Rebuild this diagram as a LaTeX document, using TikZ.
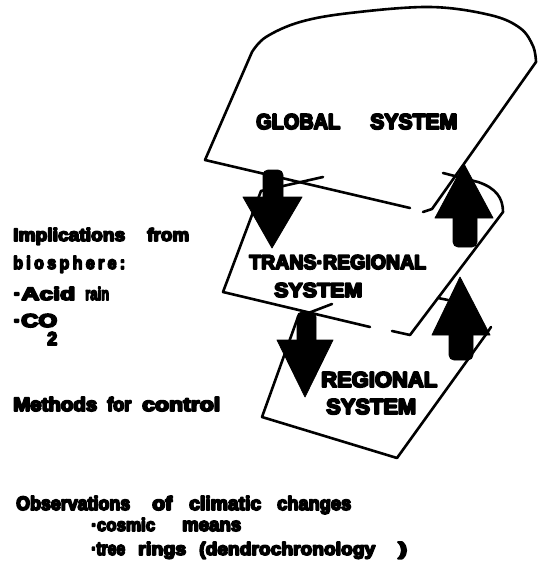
\documentclass[tikz,border=0pt]{standalone}
\usepackage{fontspec}
\setmainfont{Liberation Sans}
\usepackage{graphicx}

% heavy lettering: glyphs are filled and stroked
\newcommand\heavyon{\special{pdf:literal direct 2 Tr 0.9 w 1 j}}
\newcommand\heavyoff{\special{pdf:literal direct 0 Tr}}
% a word set to a fixed width (pt) and cap height (pt)
\newcommand\wb[3][13]{\resizebox{#2pt}{#1pt}{\heavyon\vphantom{A}#3\heavyoff}}

\begin{document}
\begin{tikzpicture}[x=1pt,y=-1pt,
  outline/.style={line width=2.6pt, line cap=round, line join=round},
  blockarrow/.style={fill=black, draw=black, line width=0.8pt, line join=round},
  shaft/.style={blockarrow, rounded corners=5pt},
  label/.style={anchor=base west, inner sep=0pt, font=\bfseries}]
\useasboundingbox (0,0) rectangle (538,564);

% ---- global system outline
\draw[outline] (410,208) -- (205,160) -- plot[smooth, tension=0.6] coordinates
  {(252,52) (266,37) (300,22) (350,13) (430,7) (490,15) (520,28) (533,46) (536,62)}
  -- (432,209) -- (423,212);

% ---- trans-regional system outline
\draw[outline] (370,327) -- (223,292) -- (261,191) -- (323,177);
\draw[outline] (443,173) -- (478,182) .. controls (496,188) and (503,198) .. (503,212)
  -- (410,335) -- (392,331);

% ---- regional system outline
\draw[outline] (332,304) -- (298,317) -- (262,417) -- (397,458) -- (487,333) -- (491,327);
\draw[outline] (438,298) -- (448,300);

% ---- block arrows between the levels
% global -> trans-regional
\fill[shaft] (263,200) -- (263,170) -- (283,170) -- (283,200);
\fill[blockarrow] (272,248) -- (243,197) -- (302,197) -- cycle;
% trans-regional -> regional
\fill[shaft] (297,344) -- (297,312) -- (316,312) -- (316,344);
\fill[blockarrow] (305,397) -- (277,340) -- (333,340) -- cycle;
% trans-regional -> global
\fill[shaft] (453,214) -- (453,247) -- (477,247) -- (477,214);
\fill[blockarrow] (464,164) -- (435,218) -- (493,218) -- cycle;
% regional -> trans-regional
\fill[shaft] (449,331) -- (449,360) -- (473,360) -- (473,331);
\fill[blockarrow] (460,277) -- (432,335) -- (490,335) -- cycle;

% ---- level names
\node[label] (global) at (256,129) {\wb[15]{84}{GLOBAL}\hspace{30pt}\wb[15]{87}{SYSTEM}};
\node[label] (transA) at (249,269) {\wb[14]{177}{TRANS·REGIONAL}};
\node[label] (transB) at (274,297) {\wb[14]{88}{SYSTEM}};
\node[label] (regA) at (321,387) {\wb[15]{116}{REGIONAL}};
\node[label] (regB) at (326,414) {\wb[15]{90}{SYSTEM}};

% ---- notes on the left
\node[label] (impl) at (13,241) {\wb{112}{Implications}\hspace{22pt}\wb{42}{from}};
\node[label] (bio) at (13,269) {\wb{112}{b\hspace{2pt}i\hspace{2pt}o\hspace{2pt}s\hspace{2pt}p\hspace{2pt}h\hspace{2pt}e\hspace{2pt}r\hspace{2pt}e\hspace{2pt}:}};
\node[label] (acid) at (13,300) {\wb{62}{·Acid}\hspace{10pt}\wb{24}{rain}};
\node[label] (co) at (13,327) {\wb{44}{·CO}};
\node[label] (cosub) at (47,345) {\wb{10}{2}};
\node[label] (methods) at (13,411) {\wb[14]{84}{Methods}\hspace{10pt}\wb[14]{24}{for}\hspace{11pt}\wb[14]{78}{control}};

% ---- notes at the bottom
\node[label] (obs) at (16,510) {\wb[14]{114}{Observations}\hspace{22pt}\wb[14]{20}{of}\hspace{17pt}\wb[14]{72}{climatic}\hspace{16pt}\wb[14]{74}{changes}};
\node[label] (cosmic) at (91,531) {\wb{64}{·cosmic}\hspace{27pt}\wb{59}{means}};
\node[label] (tree) at (91,555) {\wb{34}{·tree}\hspace{13pt}\wb{48}{rings}\hspace{13pt}\wb{176}{(dendrochronology}\hspace{23pt}\wb{9}{)}};
\end{tikzpicture}
\end{document}
